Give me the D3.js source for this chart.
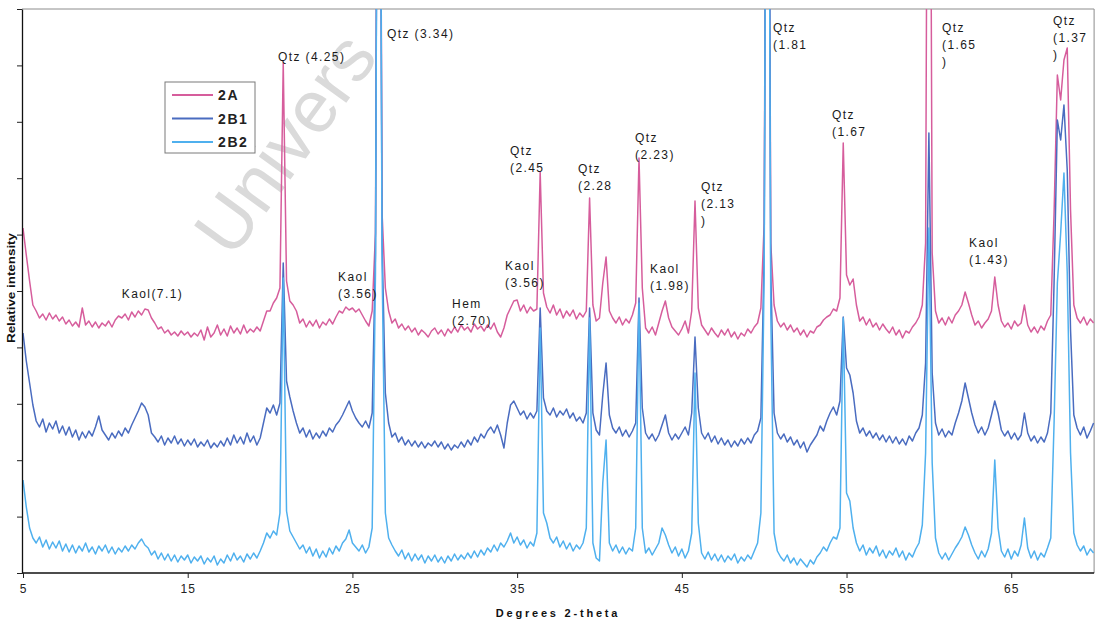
<!DOCTYPE html>
<html>
<head>
<meta charset="utf-8">
<script src="https://cdn.jsdelivr.net/npm/d3@7"></script>
<style>
  html, body { margin: 0; padding: 0; background: #fff; }
  svg { display: block; font-family: "Liberation Sans", Arial, sans-serif; }
</style>
</head>
<body>
<svg id="chart" width="1096" height="621"></svg>
<script>
// XRD patterns, 5–70° 2θ in 0.2° steps (intensity in counts, arbitrary scale)
const startAngle = 5;
const stepAngle = 0.2;

const int2A = [
  345,318,292,268,262,255,259,253,260,254,258,252,256,249,253,247,251,246,265,248,252,246,251,245,250,
  247,252,246,253,257,255,259,253,261,256,262,258,264,263,255,250,244,246,240,243,238,241,237,242,238,
  241,236,240,237,243,233,246,236,240,248,238,244,237,247,240,245,239,248,240,244,241,246,242,252,262,
  262,270,275,285,510,292,272,268,262,250,254,246,252,247,253,245,251,248,254,249,256,262,260,266,263,
  265,261,264,258,252,247,262,340,1200,360,285,262,250,254,245,249,243,247,241,245,238,243,240,236,242,
  245,239,243,237,244,240,246,241,248,243,246,241,249,244,247,242,248,244,250,241,236,245,258,265,272,
  273,262,268,260,266,262,264,401,280,266,260,268,258,264,255,262,257,263,254,260,256,262,375,268,252,
  255,290,316,262,255,250,256,248,254,250,258,270,415,285,245,240,246,238,250,262,272,255,246,242,238,
  244,252,240,262,372,265,248,243,238,245,240,236,243,238,244,236,241,234,240,237,244,240,246,250,265,
  350,1200,330,268,252,246,250,243,248,241,245,238,243,236,242,240,246,248,253,256,258,264,262,275,430,
  298,288,294,268,252,256,248,254,246,250,243,249,244,240,246,238,243,235,242,240,246,250,256,268,330,
  1200,320,262,250,255,248,256,250,258,262,268,281,270,258,248,252,245,250,254,262,296,268,252,246,250,
  244,252,247,250,268,248,241,246,240,247,243,252,258,360,498,473,513,525,363,268,255,250,256,248,254,
  250
];

const int2B1 = [
  240,212,190,168,152,146,154,141,150,144,152,140,147,138,146,136,143,133,141,135,142,137,146,157,143,
  138,133,140,135,142,137,145,140,148,155,162,170,166,158,140,136,131,137,128,135,130,137,129,134,127,
  133,128,134,126,131,127,133,125,130,126,132,127,135,128,138,130,136,129,140,131,137,128,135,150,165,
  160,168,158,170,310,192,176,162,150,140,145,136,143,134,140,135,142,137,145,141,148,152,158,165,172,
  162,155,150,146,152,145,160,320,1200,330,180,150,136,140,131,136,128,133,127,132,126,131,125,130,127,
  132,126,131,124,129,123,128,125,131,126,133,128,136,131,139,135,142,146,140,148,138,125,150,168,172,
  165,158,162,154,160,155,162,265,175,162,158,165,156,162,158,164,155,160,152,156,150,160,265,160,143,
  138,178,210,158,145,140,146,137,143,136,142,150,275,165,140,134,139,132,138,148,158,140,133,139,134,
  140,146,138,160,236,165,140,134,140,131,137,129,135,128,133,126,132,127,134,129,135,130,138,142,155,
  320,1200,300,160,140,134,139,131,136,128,133,125,131,121,128,133,138,147,142,152,160,166,158,172,256,
  205,198,180,152,140,145,137,142,135,140,133,138,131,137,130,136,129,134,128,137,132,140,145,158,210,
  440,200,150,138,144,136,142,138,150,160,172,190,175,160,148,140,146,138,145,158,172,160,143,137,142,
  134,140,133,138,160,140,132,137,130,136,131,140,160,290,453,433,468,403,243,158,145,138,146,135,142,
  150
];

const int2B2 = [
  93,66,45,35,30,36,26,33,24,31,25,32,22,29,21,28,20,27,22,30,21,26,19,27,22,
  28,20,26,19,25,21,27,22,28,24,30,34,28,25,18,22,14,20,13,19,12,18,11,17,13,
  18,10,16,12,17,9,15,11,17,8,14,10,18,12,20,13,17,11,19,14,20,15,22,30,40,
  35,42,38,60,295,62,42,36,30,24,28,20,26,17,24,15,22,16,25,19,27,22,30,34,43,
  30,26,22,28,20,26,45,300,1200,310,60,35,28,22,17,23,14,20,12,19,13,18,10,17,12,
  18,11,16,10,17,12,19,13,18,14,20,15,22,16,23,18,25,21,28,22,30,26,32,40,30,
  36,28,33,25,31,27,40,245,60,50,35,30,36,26,32,24,30,22,28,24,30,45,255,30,15,
  12,90,133,30,22,28,20,26,19,25,22,45,270,45,20,25,18,24,30,45,38,28,20,26,17,
  24,15,22,40,200,50,20,14,21,13,19,12,18,11,17,13,19,10,16,12,18,14,22,30,60,
  300,1200,260,40,22,16,12,18,10,15,8,14,10,6,13,9,16,20,26,22,30,36,34,45,255,
  80,72,45,30,22,28,18,25,20,27,17,23,15,22,18,25,16,22,13,20,16,24,30,48,120,
  345,110,35,20,14,20,13,19,25,30,36,46,38,28,20,14,22,16,24,40,113,45,22,16,24,
  14,22,17,28,55,25,15,22,13,20,16,25,35,150,290,340,400,300,120,40,28,22,27,18,24,
  20
];

const seriesNames = ["2A", "2B1", "2B2"];
const seriesColors = ["#d65d9c", "#4a6cc0", "#4fb0ee"];
const xTickValues = [5, 15, 25, 35, 45, 55, 65];
const xDomain = [5, 70];
const yMax = 564;

// Peak labels: text lines, anchored at a 2θ angle and an intensity level
const peakLabels = [
  { lines: ["Kaol(7.1)"], angle: 11.0, level: 275 },
  { lines: ["Qtz (4.25)"], angle: 20.48, level: 512 },
  { lines: ["Kaol", "(3.56)"], angle: 24.13, level: 292 },
  { lines: ["Qtz (3.34)"], angle: 27.1, level: 535 },
  { lines: ["Hem", "(2.70)"], angle: 31.05, level: 265 },
  { lines: ["Kaol", "(3.56)"], angle: 34.27, level: 303 },
  { lines: ["Qtz", "(2.45"], angle: 34.57, level: 418 },
  { lines: ["Qtz", "(2.28"], angle: 38.7, level: 400 },
  { lines: ["Qtz", "(2.23)"], angle: 42.16, level: 431 },
  { lines: ["Kaol", "(1.98)"], angle: 43.07, level: 300 },
  { lines: ["Qtz", "(2.13", ")"], angle: 46.17, level: 382 },
  { lines: ["Qtz", "(1.81"], angle: 50.54, level: 541 },
  { lines: ["Qtz", "(1.67"], angle: 54.12, level: 454 },
  { lines: ["Qtz", "(1.65", ")"], angle: 60.8, level: 541 },
  { lines: ["Kaol", "(1.43)"], angle: 62.44, level: 326 },
  { lines: ["Qtz", "(1.37", ")"], angle: 67.54, level: 548 }
];

const svg = d3.select("#chart");
const plot = { left: 23, right: 1093.6, top: 9, bottom: 573 };

const x = d3.scaleLinear().domain(xDomain).range([plot.left, plot.right]);
const y = d3.scaleLinear().domain([0, yMax]).range([plot.bottom, plot.top]);

// Watermark behind the patterns
svg.append("text")
  .attr("transform", "translate(232,260) rotate(-54)")
  .attr("font-size", 74)
  .attr("fill", "#dadada")
  .text("Univers");

svg.append("defs").append("clipPath").attr("id", "plotClip")
  .append("rect")
  .attr("x", plot.left - 1).attr("y", plot.top)
  .attr("width", plot.right - plot.left + 2).attr("height", plot.bottom - plot.top);

// Frame (top and right edges)
svg.append("path")
  .attr("d", `M${plot.left - 1},${plot.top}H${plot.right + 0.5}V${plot.bottom}`)
  .attr("fill", "none").attr("stroke", "#8c8c8c").attr("stroke-width", 1);

const series = [int2A, int2B1, int2B2].map((vals, k) => ({
  name: seriesNames[k],
  color: seriesColors[k],
  points: vals.map((v, i) => [startAngle + stepAngle * i, v])
}));

const line = d3.line().x(d => x(d[0])).y(d => y(d[1]));

svg.append("g").attr("clip-path", "url(#plotClip)")
  .selectAll("path")
  .data(series)
  .join("path")
  .attr("d", d => line(d.points))
  .attr("fill", "none")
  .attr("stroke", d => d.color)
  .attr("stroke-width", 1.5)
  .attr("stroke-linejoin", "round");

// Axes
const xAxis = svg.append("g")
  .attr("transform", `translate(0,${plot.bottom})`)
  .call(d3.axisBottom(x).tickValues(xTickValues).tickSize(5).tickSizeOuter(0).tickPadding(6));
xAxis.select(".domain").attr("stroke", "#111").attr("stroke-width", 1.3)
  .attr("d", `M${plot.left - 1},0H${plot.right + 0.5}`);
xAxis.selectAll(".tick line").attr("stroke", "#222");
xAxis.selectAll(".tick text")
  .attr("font-size", 12).attr("fill", "#222").attr("letter-spacing", 1)
  .attr("font-family", "Liberation Sans, Arial, sans-serif");

const yTicks = d3.range(11).map(i => i * yMax / 10);
const yAxis = svg.append("g")
  .attr("transform", `translate(${plot.left - 1},0)`)
  .call(d3.axisLeft(y).tickValues(yTicks).tickSize(5).tickSizeOuter(0).tickFormat(""));
yAxis.select(".domain").attr("stroke", "#111").attr("stroke-width", 1.3);
yAxis.selectAll(".tick line").attr("stroke", "#222");

// Axis titles
svg.append("text")
  .attr("x", 558).attr("y", 617)
  .attr("text-anchor", "middle")
  .attr("font-size", 11).attr("font-weight", "bold")
  .attr("letter-spacing", 2.8).attr("fill", "#111")
  .text("Degrees 2-theta");

svg.append("text")
  .attr("transform", "translate(15,288) rotate(-90)")
  .attr("text-anchor", "middle")
  .attr("font-size", 11).attr("font-weight", "bold")
  .attr("fill", "#111")
  .attr("textLength", 110).attr("lengthAdjust", "spacingAndGlyphs")
  .text("Relative intensity");

// Peak labels
const labelG = svg.append("g")
  .attr("font-size", 12).attr("letter-spacing", 1.4).attr("fill", "#1a1a1a");
peakLabels.forEach(p => {
  const t = labelG.append("text").attr("x", x(p.angle)).attr("y", y(p.level));
  p.lines.forEach((s, i) => {
    t.append("tspan").attr("x", x(p.angle)).attr("dy", i === 0 ? 0 : 17).text(s);
  });
});

// Legend
const legend = svg.append("g").attr("transform", "translate(165,82)");
legend.append("rect")
  .attr("width", 90).attr("height", 71)
  .attr("fill", "#fff").attr("stroke", "#7a7a7a").attr("stroke-width", 1);
series.forEach((s, i) => {
  const gy = 13 + i * 23.5;
  legend.append("line")
    .attr("x1", 7).attr("x2", 48).attr("y1", gy).attr("y2", gy)
    .attr("stroke", s.color).attr("stroke-width", 1.8);
  legend.append("text")
    .attr("x", 53).attr("y", gy + 5)
    .attr("font-size", 14).attr("font-weight", "bold")
    .attr("letter-spacing", 1.6).attr("fill", "#222")
    .text(s.name);
});
</script>
</body>
</html>
